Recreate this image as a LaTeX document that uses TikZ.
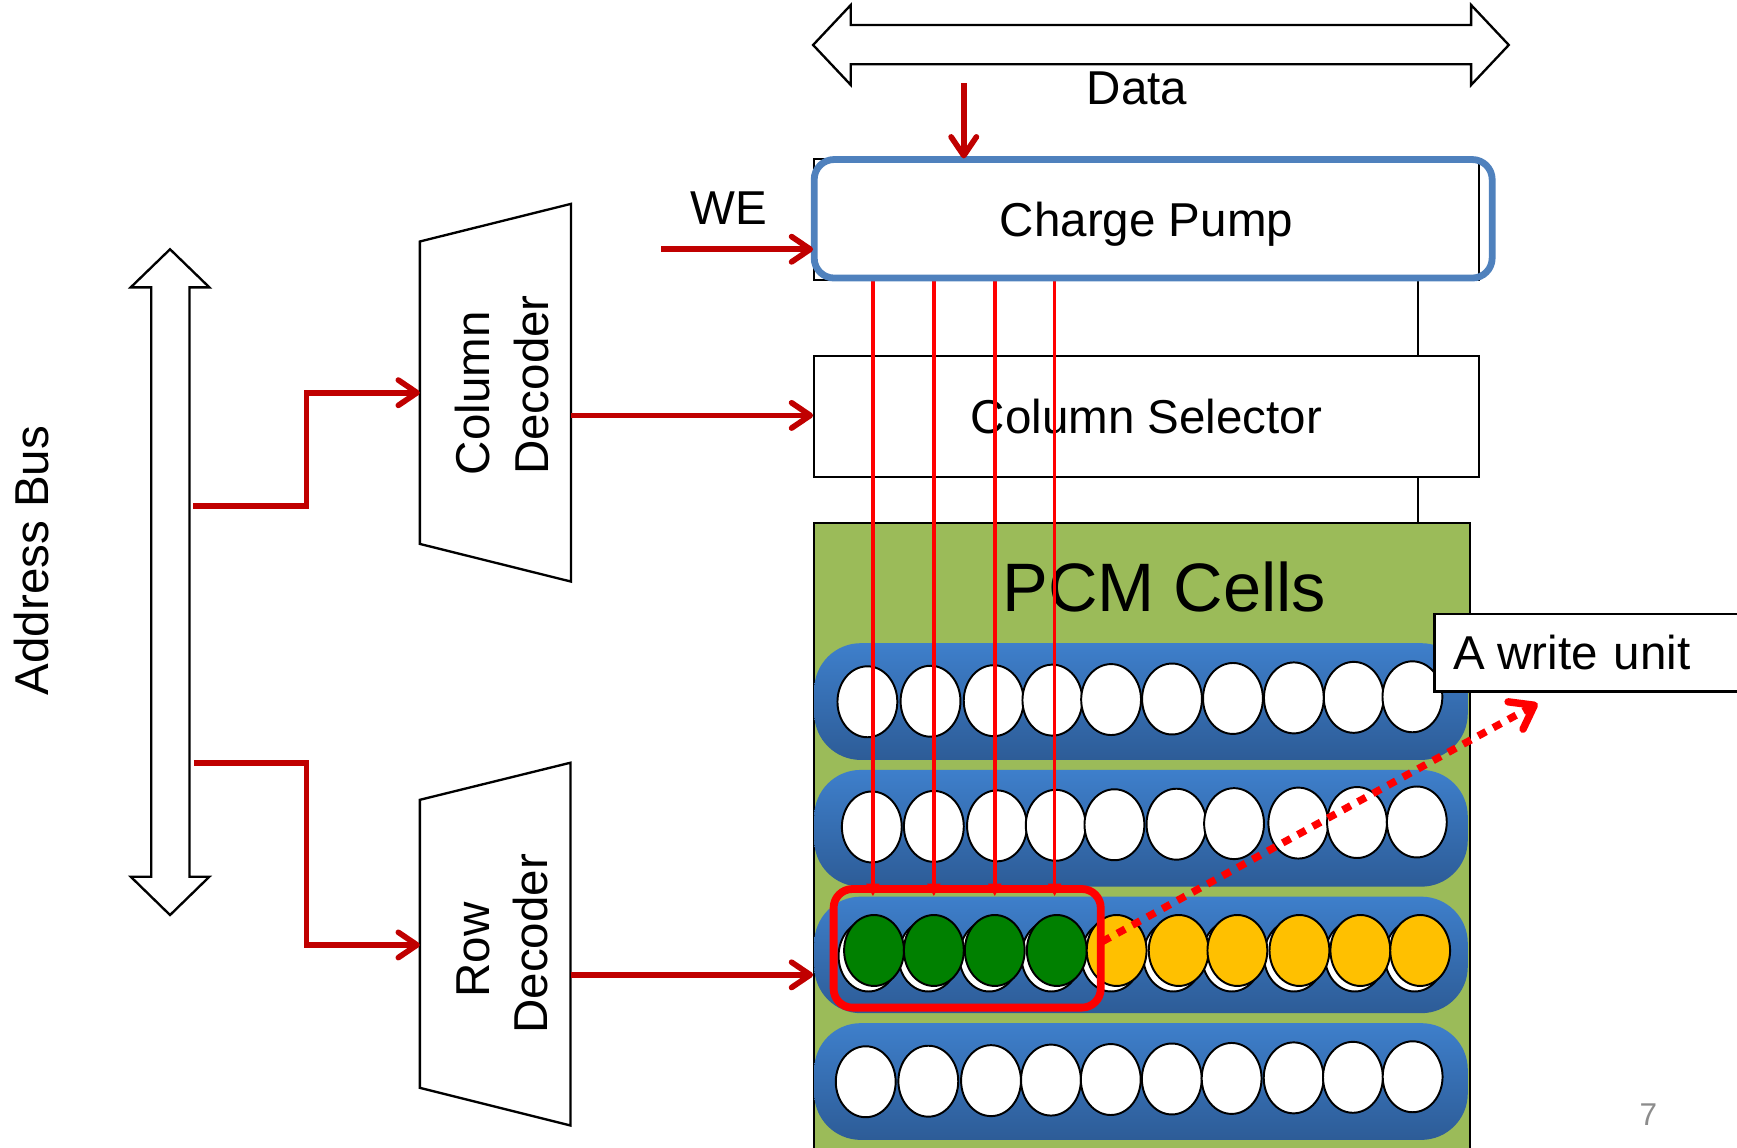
\documentclass[tikz,border=0pt]{standalone}
\usepackage{fontspec}
\setmainfont{Liberation Sans}
\usetikzlibrary{arrows.meta}
\definecolor{dred}{HTML}{C00000}
\definecolor{bred}{HTML}{FF0000}
\definecolor{pcmgreen}{HTML}{9BBB59}
\definecolor{cpblue}{HTML}{4F81BD}
\definecolor{rowtop}{HTML}{3E7FCB}
\definecolor{rowbot}{HTML}{2D5C97}
\definecolor{cellgreen}{HTML}{008000}
\definecolor{cellyellow}{HTML}{FFC000}
\definecolor{pagegray}{HTML}{8C8C8C}
\begin{document}
\begin{tikzpicture}[x=0.01cm,y=-0.01cm,
  txt/.style={font=\fontsize{12.2}{14.6}\selectfont, inner sep=0pt},
  blockbox/.style={txt, draw=black, line width=0.5pt, fill=white, text height=0.307cm, text depth=0pt},
  outline/.style={draw=black, line width=0.6pt, fill=white},
  ctl/.style={draw=dred, line width=1.45pt, -{Straight Barb[length=4.8pt,width=6.5pt,round]}},
  cpline/.style={draw=bred, line width=0.9pt, -{Triangle[length=3.2pt,width=3.2pt]}},
  cell/.style={draw=black, line width=0.5pt, fill=white},
  pill/.style={top color=rowtop, bottom color=rowbot, rounded corners=0.42cm}
]
\useasboundingbox (0,0) rectangle (1568,1036);

% Data bus
\draw[outline] (734,40.6) -- (768,4.5) -- (768,22.6) -- (1328,22.6) -- (1328,4.5) -- (1362,40.6)
  -- (1328,76.7) -- (1328,58) -- (768,58) -- (768,76.7) -- cycle;
\node[txt, anchor=base] (data) at (1026.5,94) {Data};

% Address bus
\draw[outline] (153.5,225) -- (189,259.4) -- (171,259.4) -- (171,791.4) -- (189,791.4) -- (153.5,826)
  -- (118,791.4) -- (136.5,791.4) -- (136.5,259.4) -- (118,259.4) -- cycle;
\node[txt, rotate=90, anchor=base] (abl) at (44,506) {Address Bus};

% Decoders
\draw[outline] (379,218) -- (515.5,184) -- (515.5,525) -- (379,491) -- cycle;
\node[txt, rotate=90, anchor=base] (cdl1) at (442.3,355) {Column};
\node[txt, rotate=90, anchor=base] (cdl2) at (495,347.5) {Decoder};
\draw[outline] (379,722) -- (515,688.5) -- (515,1016) -- (379,982) -- cycle;
\node[txt, rotate=90, anchor=base] (rdl1) at (442,857.5) {Row};
\node[txt, rotate=90, anchor=base] (rdl2) at (494,852) {Decoder};

\coordinate (ab1) at (174.5,457);
\coordinate (ab2) at (175,689);
\coordinate (cdin) at (379,354.5);
\coordinate (rdin) at (379,853);
\coordinate (cdout) at (515.5,375);
\coordinate (rdout) at (515,880);
\coordinate (wesrc) at (597,225);
\coordinate (dsrc) at (870,75);

% Charge pump and column selector
\node[blockbox, minimum width=6.00cm, minimum height=1.09cm, anchor=north west] (cp) at (734,143) {Charge Pump};
\node[blockbox, minimum width=6.00cm, minimum height=1.09cm, anchor=north west] (cs) at (734,320.5) {Column Selector};
\draw[black, line width=0.5pt] (1280,252) -- (1280,320.5);
\draw[black, line width=0.5pt] (1280,430) -- (1280,471);

% PCM cells
\node[draw=black, line width=0.5pt, fill=pcmgreen, minimum width=5.92cm, minimum height=5.9cm, anchor=north west, inner sep=0pt] (pcm) at (734,471) {};
\node[font=\fontsize{17.6}{21}\selectfont, anchor=base, inner sep=0pt] (pcmlabel) at (1051,552) {PCM Cells};

\shade[pill] (735,580.6) rectangle (1325,686);
\shade[pill] (735,695) rectangle (1325,800.4);
\shade[pill] (735,809.4) rectangle (1325,914.6);
\shade[pill] (735,923.6) rectangle (1325,1029);

\foreach \cx [count=\i] in {783,840,897,950,1003,1058,1113,1168,1222,1275}
  \draw[cell] (\cx,634-0.5*\i) ellipse [x radius=0.27cm, y radius=0.32cm];
\foreach \cx [count=\i] in {787,843,900,953,1006,1062,1114,1172,1225,1279}
  \draw[cell] (\cx,747-0.5*\i) ellipse [x radius=0.27cm, y radius=0.32cm];
\foreach \cx [count=\i] in {789,843,898,954,1008,1064,1117,1173,1228,1282}
  \draw[cell] (\cx-5,863) ellipse [x radius=0.27cm, y radius=0.32cm];
\foreach \cx [count=\i] in {789,843,898,954}
  \draw[cell, fill=cellgreen] (\cx,858) ellipse [x radius=0.27cm, y radius=0.32cm];
\foreach \cx [count=\i] in {1008,1064,1117,1173,1228,1282}
  \draw[cell, fill=cellyellow] (\cx,858) ellipse [x radius=0.27cm, y radius=0.32cm];
\foreach \cx [count=\i] in {781.5,838,894.6,948.7,1002.7,1057.8,1111.8,1167.8,1221.3,1275.2}
  \draw[cell] (\cx,977-0.5*\i) ellipse [x radius=0.27cm, y radius=0.32cm];

% write unit
\node[draw=bred, line width=2pt, rounded corners=0.17cm, minimum width=2.41cm, minimum height=1.07cm, anchor=north west, inner sep=0pt] (wu) at (749,799) {};
\foreach \x in {788,843,898,952}
  \draw[cpline] (\x,0 |- cp.south) -- (\x,809);

\draw[cpblue, line width=1.75pt, rounded corners=0.18cm] (735,144) rectangle (1347,251);

% Control arrows
\draw[ctl] (ab1) -- (ab1 -| 276.8,0) |- (cdin);
\draw[ctl] (ab2) -- (ab2 -| 276.8,0) |- (rdin);
\draw[ctl] (cdout) -- (cdout -| cs.west);
\draw[ctl] (rdout) -- (rdout -| pcm.west);
\draw[ctl] (wesrc) -- (wesrc -| cp.west);
\draw[ctl] (dsrc) -- (dsrc |- cp.north);
\node[txt, anchor=base] (we) at (658,203) {WE};

% A write unit label
\coordinate (dstart) at (995,850);
\coordinate (dend) at (1388,635);
\draw[bred, line width=1.9pt, dash pattern=on 2.3pt off 2.1pt, -{Straight Barb[length=5.5pt,width=8pt,round]}] (dstart) -- (dend);
\node[txt, draw=black, line width=0.6pt, fill=white, anchor=north west, minimum height=0.70cm, text width=2.6cm, inner xsep=0.17cm, inner ysep=0pt, align=left, text height=0.307cm, text depth=0pt] (wunit) at (1294,553) {A\kern-0.07em{} write unit};

\node[font=\fontsize{8.1}{10}\selectfont, text=pagegray, anchor=base, inner sep=0pt] (pg) at (1488,1016) {7};
\end{tikzpicture}
\end{document}
